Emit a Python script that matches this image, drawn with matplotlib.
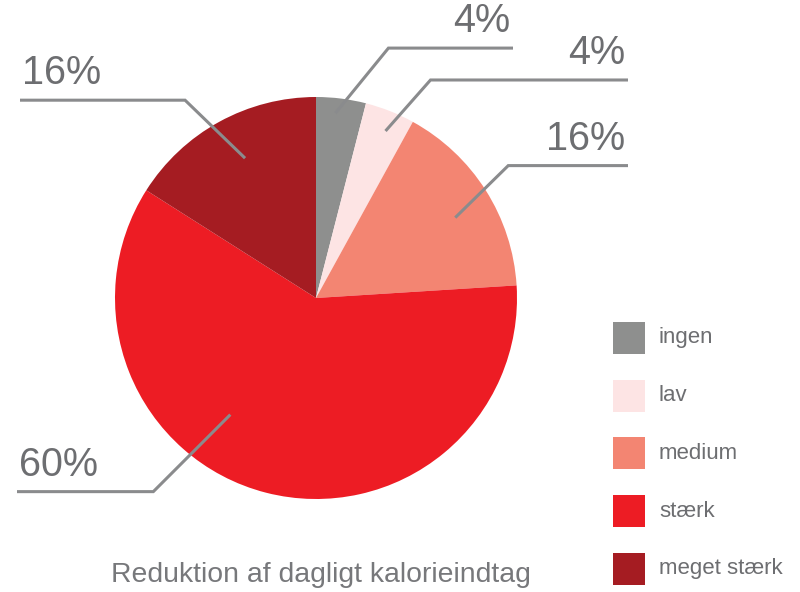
import numpy as np
import matplotlib
matplotlib.use("Agg")
import matplotlib.pyplot as plt
from matplotlib.patches import Rectangle

categories = ["ingen", "lav", "medium", "stærk", "meget stærk"]
values = [4, 4, 16, 60, 16]
pct_labels = ["4%", "4%", "16%", "60%", "16%"]
title = "Reduktion af dagligt kalorieindtag"

colors = ["#8e8f8e", "#fde4e4", "#f38572", "#ed1c24", "#a51c22"]
text_color = "#6d6e71"
line_color = "#8a8b8d"

plt.rcParams["font.family"] = ["Liberation Sans", "DejaVu Sans"]

# layout in pixel units (y up), leader line geometry per slice
cx, cy, R = 316, 294, 201
start_ang = [84, 67.4, 30, 233.7, 116.9]
start_r = [0.925, 0.90, 0.80, 0.72, 0.78]
knee_off = [(53, 65), (45, 51), (53, 52), (-77, -77), (-60, 58)]
end_x = [513, 628, 628, 17, 20]

fig = plt.figure(figsize=(8, 5.92), dpi=100)
ax = fig.add_axes([0, 0, 1, 1])
wedges, _ = ax.pie(values, colors=colors, startangle=90, counterclock=False,
                   radius=R, center=(cx, cy))
ax.set_xlim(0, 800)
ax.set_ylim(0, 592)
ax.set_aspect("equal")
ax.axis("off")

for i, lab in enumerate(pct_labels):
    a = np.deg2rad(start_ang[i])
    x0 = cx + start_r[i] * R * np.cos(a)
    y0 = cy + start_r[i] * R * np.sin(a)
    x1, y1 = x0 + knee_off[i][0], y0 + knee_off[i][1]
    ax.plot([x0, x1, end_x[i]], [y0, y1, y1], color=line_color, lw=2.2,
            solid_joinstyle="miter", solid_capstyle="butt")
    ha = "right" if end_x[i] > cx else "left"
    tx = end_x[i] - 3 if ha == "right" else end_x[i] + 2
    ax.text(tx, y1 + 16, lab, ha=ha, va="baseline", fontsize=28.5,
            color=text_color)

ax.text(321, 10, title, ha="center", va="baseline", fontsize=20.4,
        color="#77787b")

# legend: squares of 32 px, rows 57.7 px apart
box, top, step = 32, 592 - 322, 57.7
for i, (cat, w) in enumerate(zip(categories, wedges)):
    yt = top - i * step
    ax.add_patch(Rectangle((613, yt - box), box, box,
                           facecolor=w.get_facecolor(), edgecolor="none"))
    ax.text(659, yt - box / 2, cat, ha="left", va="center", fontsize=16,
            color=text_color)

fig.savefig("out.png", dpi=100)
